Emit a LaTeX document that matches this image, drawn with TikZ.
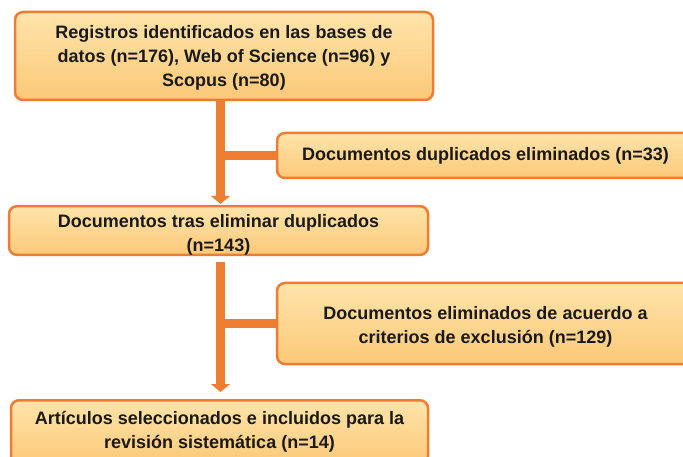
\documentclass[tikz,border=0pt]{standalone}
\usepackage{fontspec}
\setmainfont{Liberation Sans}
\usetikzlibrary{arrows.meta}
\definecolor{naranja}{HTML}{ED7D31}
\definecolor{crema}{HTML}{FFE4AA}
\definecolor{melocoton}{HTML}{FBC979}
\tikzstyle{caja}=[draw=naranja,line width=2.5pt,rounded corners=8pt,top color=crema,bottom color=melocoton,align=center,inner sep=0pt,text=black!90,font=\bfseries\fontsize{18}{24}\selectfont]
\tikzstyle{flecha}=[draw=naranja,line width=8.5pt,-{Triangle[width=19pt,length=8pt]}]
\tikzstyle{rama}=[draw=naranja,line width=8.5pt]

\begin{document}
\begin{tikzpicture}[x=1pt,y=-1pt]
	\useasboundingbox (0,0) rectangle (683,457);
	\clip (0,0) rectangle (683,457);
	\node[caja,minimum width=418pt,minimum height=88pt] (registros) at (224,56) {\rule{0pt}{16pt}Registros identificados en las bases de\\datos (n=176), Web of Science (n=96) y\\Scopus (n=80)};
	\node[caja,minimum width=417pt,minimum height=45pt] (duplicados) at (485.5,155.5) {Documentos duplicados eliminados (n=33)};
	\node[caja,minimum width=419pt,minimum height=45pt] (tras) at (218.5,230.5) {\rule{0pt}{21pt}Documentos tras eliminar duplicados\\(n=143)};
	\node[caja,minimum width=417pt,minimum height=81pt] (exclusion) at (485.5,323.5) {\rule{0pt}{19pt}Documentos eliminados de acuerdo a\\criterios de exclusión (n=129)};
	\node[caja,anchor=north,minimum width=417pt,minimum height=64pt] (articulos) at (219.5,399) {Artículos seleccionados e incluidos para la\\revisión sistemática (n=14)};
	\coordinate (eje) at (220.5,0);
	\draw[flecha] (registros.south -| eje) -- ([yshift=1pt]tras.north -| eje);
	\draw[rama] (eje |- duplicados.west) -- (duplicados.west);
	\draw[flecha] ([yshift=-6pt]tras.south -| eje) -- ([yshift=7pt]articulos.north -| eje);
	\draw[rama] (eje |- exclusion.west) -- (exclusion.west);
\end{tikzpicture}
\end{document}
